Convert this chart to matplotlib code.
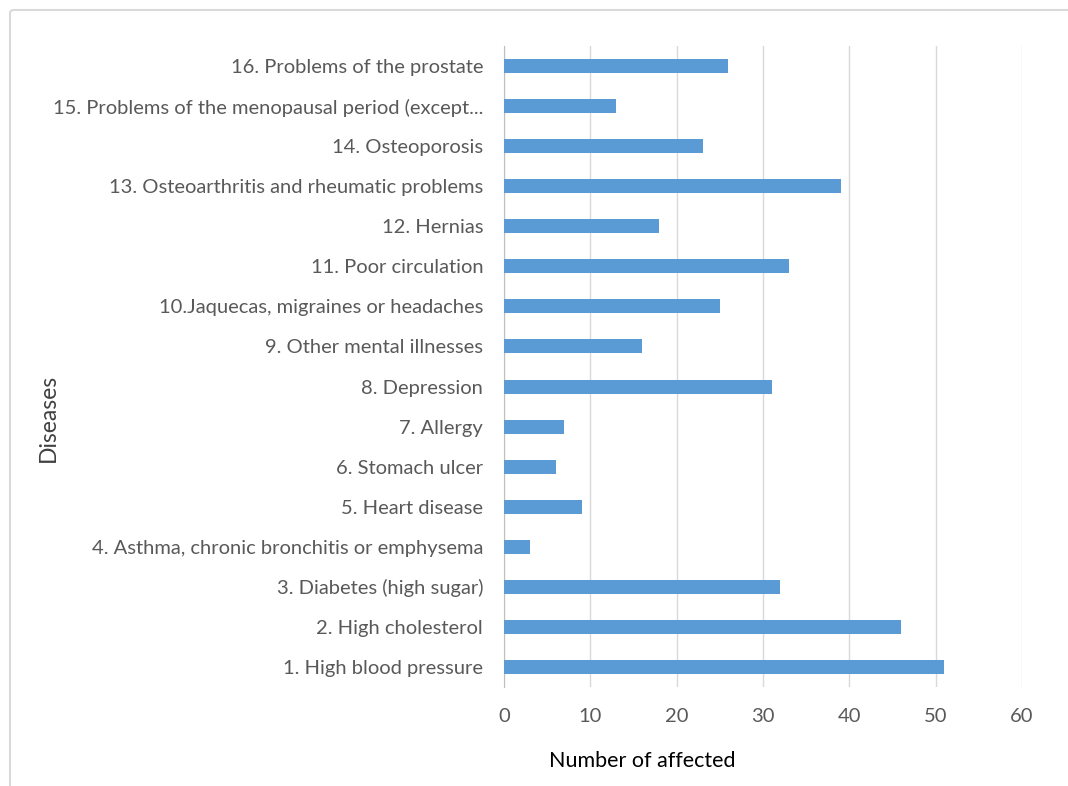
import numpy as np
import matplotlib.pyplot as plt
from matplotlib.patches import FancyBboxPatch

categories = ['1. High blood pressure',
              '2. High cholesterol',
              '3. Diabetes (high sugar)',
              '4. Asthma, chronic bronchitis or emphysema',
              '5. Heart disease',
              '6. Stomach ulcer',
              '7. Allergy',
              '8. Depression',
              '9. Other mental illnesses',
              '10.Jaquecas, migraines or headaches',
              '11. Poor circulation',
              '12. Hernias',
              '13. Osteoarthritis and rheumatic problems',
              '14. Osteoporosis',
              '15. Problems of the menopausal period (except...',
              '16. Problems of the prostate']
affected = [51, 46, 32, 3, 9, 6, 7, 31, 16, 25, 33, 18, 39, 23, 13, 26]
x_ticks = [0, 10, 20, 30, 40, 50, 60]

plt.rcParams['font.family'] = ['Lato', 'DejaVu Sans']

fig = plt.figure(figsize=(10.68, 7.86), dpi=100)
W, H = 1068, 786
ax = fig.add_axes([504 / W, 1 - 687 / H, (1022 - 504) / W, (687 - 46) / H])

# cornice grigia del riquadro
cornice = FancyBboxPatch((10 / W, -0.05), 1.1, 1 - 10 / H + 0.05,
                         boxstyle='round,pad=0,rounding_size=0.004',
                         transform=fig.transFigure, fill=False,
                         edgecolor='#d9d9d9', linewidth=1.5)
fig.patches.append(cornice)

y = np.arange(len(categories))
ax.barh(y, affected, height=0.35, color='#5b9bd5', zorder=3)

ax.set_xlim(0, 60)
ax.set_ylim(-0.5, len(categories) - 0.5)
ax.set_xticks(x_ticks)
ax.set_yticks(y)
ax.set_yticklabels(categories)
ax.grid(True, axis='x', color='#d9d9d9', linewidth=1, zorder=0)

for lato in ['top', 'right', 'bottom']:
    ax.spines[lato].set_visible(False)
ax.spines['left'].set_color('#bfbfbf')

ax.tick_params(axis='y', length=0, pad=15, labelsize=14.5, labelcolor='#595959')
ax.tick_params(axis='x', length=0, pad=15, labelsize=14.5, labelcolor='#595959')

ax.set_xlabel('Number of affected', fontsize=15.5, color='black')
ax.xaxis.set_label_coords((642 - 504) / (1022 - 504), -(751 - 687) / (687 - 46))
ax.set_ylabel('Diseases', fontsize=16.5, color='#404040')
ax.yaxis.set_label_coords(-(504 - 59) / (1022 - 504), (687 - 418) / (687 - 46))

fig.savefig('out.png', dpi=100)
